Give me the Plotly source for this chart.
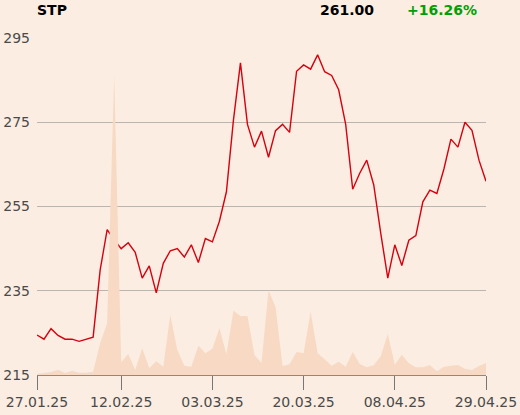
import plotly.graph_objects as go

dates = [
    "27.01.25", "28.01.25", "29.01.25", "30.01.25", "31.01.25",
    "03.02.25", "04.02.25", "05.02.25", "06.02.25", "07.02.25",
    "10.02.25", "11.02.25", "12.02.25", "13.02.25", "14.02.25",
    "17.02.25", "18.02.25", "19.02.25", "20.02.25", "21.02.25",
    "24.02.25", "25.02.25", "26.02.25", "27.02.25", "28.02.25",
    "03.03.25", "04.03.25", "05.03.25", "06.03.25", "07.03.25",
    "10.03.25", "11.03.25", "12.03.25", "13.03.25", "14.03.25",
    "17.03.25", "18.03.25", "19.03.25", "20.03.25", "21.03.25",
    "24.03.25", "25.03.25", "26.03.25", "27.03.25", "28.03.25",
    "31.03.25", "01.04.25", "02.04.25", "03.04.25", "04.04.25",
    "07.04.25", "08.04.25", "09.04.25", "10.04.25", "11.04.25",
    "14.04.25", "15.04.25", "16.04.25", "17.04.25", "22.04.25",
    "23.04.25", "24.04.25", "25.04.25", "28.04.25", "29.04.25",
]

prices = [
    224.5, 223.5, 226.0, 224.4, 223.5, 223.5, 223.0, 223.5, 224.0, 239.9,
    249.5, 247.1, 245.0, 246.4, 244.1, 238.0, 240.9, 234.5, 241.5, 244.5,
    245.0, 243.0, 245.9, 241.7, 247.4, 246.6, 251.5, 258.5, 275.5, 289.1,
    274.5, 269.1, 272.9, 266.7, 273.0, 274.5, 272.6, 287.1, 288.6, 287.6,
    291.0, 287.0, 286.1, 282.7, 274.5, 259.1, 262.9, 266.0, 260.1, 248.6,
    238.0, 245.9, 241.0, 247.0, 248.1, 256.1, 258.9, 258.1, 263.9, 271.0,
    269.1, 275.0, 273.1, 266.0, 261.0,
]

volumes = [
    1.0, 1.7, 3.0, 5.3, 2.0, 4.3, 2.3, 2.3, 3.3, 31.7,
    51.7, 299.0, 12.7, 21.0, 5.0, 26.7, 6.7, 13.7, 8.3, 60.0,
    25.0, 9.3, 8.3, 29.3, 21.7, 26.3, 46.7, 20.7, 64.3, 59.0,
    59.0, 20.0, 12.0, 85.0, 67.7, 9.0, 10.7, 23.0, 21.7, 63.3,
    21.7, 15.7, 9.3, 13.3, 8.3, 23.0, 11.0, 7.7, 9.7, 19.0,
    41.0, 10.3, 20.3, 11.7, 7.7, 7.7, 10.0, 3.7, 8.3, 9.3,
    10.0, 6.3, 5.0, 9.0, 12.0,
]

tick_labels = ["27.01.25", "12.02.25", "03.03.25", "20.03.25", "08.04.25", "29.04.25"]
y_ticks = [215, 235, 255, 275, 295]

ticker = "STP"
last_price = "261.00"
change = "+16.26%"

BG = "#fbede1"
FONT = "DejaVu Sans"

W, H = 520, 415
ML, MR, MT, MB = 37, 34, 38, 40
PW, PH = W - ML - MR, H - MT - MB


def px_x(x):
    return (x - ML) / PW


def px_y(y):
    return (H - MB - y) / PH


fig = go.Figure()
fig.add_trace(go.Scatter(
    x=dates, y=volumes, yaxis="y2", mode="lines",
    line=dict(width=0, color="#f7d9c4"), fill="tozeroy",
    fillcolor="#f7d9c4", hoverinfo="skip", showlegend=False,
))
fig.add_trace(go.Scatter(
    x=dates, y=prices, mode="lines",
    line=dict(color="#d7000f", width=1.4), showlegend=False,
))

fig.update_layout(
    width=W, height=H,
    margin=dict(l=ML, r=MR, t=MT, b=MB, autoexpand=False),
    paper_bgcolor=BG, plot_bgcolor=BG,
    font=dict(family=FONT, size=14, color="#4a4a4a"),
    xaxis=dict(
        type="category", range=[0, len(dates) - 1], automargin=False,
        tickmode="array", tickvals=tick_labels, ticktext=tick_labels,
        ticks="outside", ticklen=14, tickcolor="#777777", tickwidth=1,
        showline=True, linecolor="#8a8a8a", linewidth=1,
        showgrid=False, zeroline=False,
        tickfont=dict(size=14, color="#4a4a4a"),
    ),
    yaxis=dict(
        range=[215, 295], tickmode="array", tickvals=y_ticks, automargin=False,
        showgrid=True, gridcolor="#b9b5b0", gridwidth=1,
        zeroline=False, showline=False, ticks="",
        ticklabelstandoff=6,
        tickfont=dict(size=14, color="#4a4a4a"),
    ),
    yaxis2=dict(
        range=[0, 337], overlaying="y", side="right", automargin=False,
        showgrid=False, showticklabels=False, zeroline=False, visible=False,
    ),
    annotations=[
        dict(text="<b>" + ticker + "</b>", x=px_x(35), y=px_y(10),
             xref="paper", yref="paper",
             xanchor="left", yanchor="middle", showarrow=False,
             font=dict(family=FONT, size=14, color="#000000")),
        dict(text="<b>" + last_price + "</b>", x=px_x(376), y=px_y(10),
             xref="paper", yref="paper", xanchor="right", yanchor="middle",
             showarrow=False, font=dict(family=FONT, size=14, color="#000000")),
        dict(text="<b>" + change + "</b>", x=px_x(405), y=px_y(10),
             xref="paper", yref="paper", xanchor="left", yanchor="middle",
             showarrow=False, font=dict(family=FONT, size=14, color="#00a000")),
    ],
)

fig.write_html(
    "out.html",
    config={"displayModeBar": False},
    post_script="document.body.style.margin='0';document.body.style.background='" + BG + "';",
)
